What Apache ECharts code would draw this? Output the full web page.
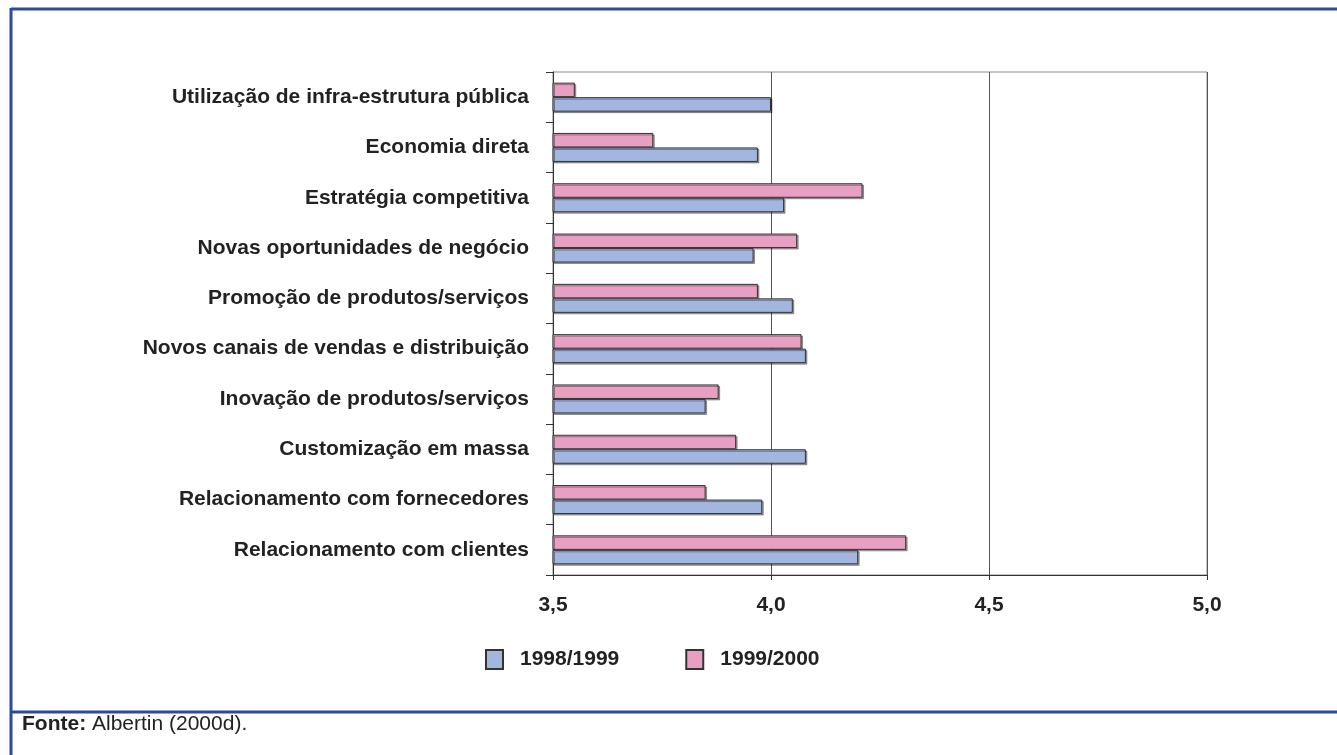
<!DOCTYPE html>
<html>
<head>
<meta charset="utf-8">
<script src="https://cdn.jsdelivr.net/npm/echarts@6/dist/echarts.min.js"></script>
<style>
html,body{margin:0;padding:0;background:#fff;}
#chart{width:1337px;height:755px;}
</style>
</head>
<body>
<div id="chart"></div>
<script>
// Categories, top to bottom as shown
const categories = [
  'Utilização de infra-estrutura pública',
  'Economia direta',
  'Estratégia competitiva',
  'Novas oportunidades de negócio',
  'Promoção de produtos/serviços',
  'Novos canais de vendas e distribuição',
  'Inovação de produtos/serviços',
  'Customização em massa',
  'Relacionamento com fornecedores',
  'Relacionamento com clientes'
];
const values1998_1999 = [4.00, 3.97, 4.03, 3.96, 4.05, 4.08, 3.85, 4.08, 3.98, 4.20];
const values1999_2000 = [3.55, 3.73, 4.21, 4.06, 3.97, 4.07, 3.88, 3.92, 3.85, 4.31];
const xTicks = [3.5, 4.0, 4.5, 5.0];
const legendNames = ['1998/1999', '1999/2000'];
const sourceText = ['Fonte:', ' Albertin (2000d).'];

const FONT = 'Liberation Sans, Arial, Helvetica, sans-serif';
const chart = echarts.init(document.getElementById('chart'), null, {renderer: 'canvas'});
const frameColor = '#2d4a9e';

chart.setOption({
  animation: false,
  backgroundColor: '#ffffff',
  textStyle: {fontFamily: FONT},
  grid: {left: 553, right: 130, top: 72, bottom: 180, show: true, borderColor: '#888888', borderWidth: 1, backgroundColor: 'transparent'},
  legend: {
    data: legendNames,
    left: 485, top: 649, padding: 0,
    itemWidth: 17, itemHeight: 19, itemGap: 66,
    textStyle: {fontFamily: FONT, fontSize: 21, fontWeight: 'bold', color: '#222', padding: [0,0,0,12]},
    icon: 'rect'
  },
  xAxis: {
    type: 'value', min: xTicks[0], max: xTicks[xTicks.length-1], interval: 0.5,
    axisLine: {show: true, lineStyle: {color: '#333', width: 1}},
    axisTick: {show: true, length: 5, lineStyle: {color: '#333'}},
    splitLine: {show: true, lineStyle: {color: '#555', width: 1}},
    axisLabel: {
      margin: 20, fontSize: 21, fontWeight: 'bold', color: '#222', fontFamily: FONT,
      formatter: v => v.toFixed(1).replace('.', ',')
    }
  },
  yAxis: {
    type: 'category', data: categories, inverse: true,
    axisLine: {show: true, lineStyle: {color: '#333', width: 1}},
    axisTick: {show: true, length: 7, lineStyle: {color: '#333'}},
    axisLabel: {margin: 24, fontSize: 21, fontWeight: 'bold', color: '#222', fontFamily: FONT}
  },
  series: [
    {
      name: legendNames[1], type: 'bar', data: values1999_2000,
      barWidth: 14.5, barGap: '0%',
      itemStyle: {color: '#e8a0c2', borderColor: '#333', borderWidth: 1, shadowColor: 'rgba(0,0,0,0.35)', shadowOffsetX: 1.5, shadowOffsetY: 1.5}
    },
    {
      name: legendNames[0], type: 'bar', data: values1998_1999,
      barWidth: 14.5, barGap: '0%',
      itemStyle: {color: '#a3b6df', borderColor: '#333', borderWidth: 1, shadowColor: 'rgba(0,0,0,0.35)', shadowOffsetX: 1.5, shadowOffsetY: 1.5}
    }
  ],
  graphic: [
    {type: 'line', shape: {x1: 11, y1: 9, x2: 1337, y2: 9}, style: {stroke: frameColor, lineWidth: 3}},
    {type: 'line', shape: {x1: 11, y1: 8, x2: 11, y2: 755}, style: {stroke: frameColor, lineWidth: 3}},
    {type: 'line', shape: {x1: 11, y1: 712, x2: 1337, y2: 712}, style: {stroke: frameColor, lineWidth: 3}},
    {type: 'text', left: 22, top: 714, style: {
      text: '{b|' + sourceText[0] + '}{r|' + sourceText[1] + '}',
      rich: {
        b: {fontFamily: FONT, fontSize: 21, fontWeight: 'bold', fill: '#222', lineHeight: 22},
        r: {fontFamily: FONT, fontSize: 21, fill: '#222', lineHeight: 22}
      }
    }}
  ]
});
</script>
</body>
</html>
